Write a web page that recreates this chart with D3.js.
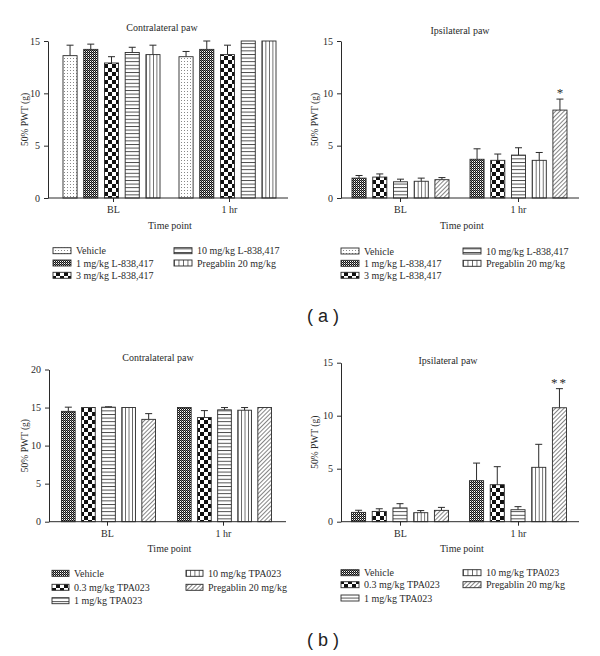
<!DOCTYPE html>
<html><head><meta charset="utf-8">
<script src="https://cdn.jsdelivr.net/npm/d3@7"></script>
<style>body{margin:0;background:#fff}svg{display:block}</style>
</head><body>
<svg id="c" width="600" height="656"></svg>
<script>
// ---------- DATA ----------
const timePoints = ["BL", "1 hr"];
const seriesA = ["Vehicle", "1 mg/kg L-838,417", "3 mg/kg L-838,417", "10 mg/kg L-838,417", "Pregablin 20 mg/kg"];
const seriesB = ["Vehicle", "0.3 mg/kg TPA023", "1 mg/kg TPA023", "10 mg/kg TPA023", "Pregablin 20 mg/kg"];

const aContraMean = [[13.6, 14.2, 12.9, 13.9, 13.7], [13.5, 14.2, 13.7, 15.0, 15.0]];
const aContraSem  = [[1.0, 0.5, 0.6, 0.5, 0.9], [0.5, 0.8, 0.9, 0, 0]];
const aIpsiMean   = [[1.9, 2.0, 1.55, 1.6, 1.75], [3.7, 3.6, 4.1, 3.6, 8.4]];
const aIpsiSem    = [[0.25, 0.3, 0.25, 0.3, 0.2], [1.0, 0.6, 0.7, 0.75, 1.05]];
const aIpsiSig    = [["", "", "", "", ""], ["", "", "", "", "*"]];

const bContraMean = [[14.5, 15.0, 15.05, 15.0, 13.45], [15.0, 13.7, 14.7, 14.65, 15.0]];
const bContraSem  = [[0.55, 0, 0.05, 0, 0.75], [0, 0.9, 0.3, 0.35, 0]];
const bIpsiMean   = [[0.88, 0.97, 1.3, 0.85, 1.07], [3.87, 3.49, 1.13, 5.13, 10.75]];
const bIpsiSem    = [[0.2, 0.25, 0.4, 0.2, 0.28], [1.66, 1.7, 0.29, 2.17, 1.8]];
const bIpsiSig    = [["", "", "", "", ""], ["", "", "", "", "**"]];

const yTicks15 = [0, 5, 10, 15];
const yTicks20 = [0, 5, 10, 15, 20];
const noSig = [["", "", "", "", ""], ["", "", "", "", ""]];

// ---------- STYLE / LAYOUT ----------
const patA = ["dots", "fine", "checker", "hlines", "vlines"];
const patB = ["fine", "checker", "hlines", "vlines", "diag"];
const INK = "#2a2a2a";
const SERIF = "'Liberation Serif', 'Times New Roman', serif";

const svg = d3.select("#c");
const defs = svg.append("defs");

// patterns
(function () {
  let p = defs.append("pattern").attr("id", "dots").attr("patternUnits", "userSpaceOnUse").attr("width", 3).attr("height", 3);
  p.append("rect").attr("width", 3).attr("height", 3).attr("fill", "#fff");
  p.append("rect").attr("x", 1).attr("y", 1).attr("width", 1).attr("height", 1).attr("fill", "#888");

  p = defs.append("pattern").attr("id", "fine").attr("patternUnits", "userSpaceOnUse").attr("width", 2).attr("height", 2);
  p.append("rect").attr("width", 2).attr("height", 2).attr("fill", "#fff");
  p.append("rect").attr("x", 0).attr("y", 0).attr("width", 1).attr("height", 1).attr("fill", "#111");
  p.append("rect").attr("x", 1).attr("y", 1).attr("width", 1).attr("height", 1).attr("fill", "#111");
  p.append("rect").attr("x", 1).attr("y", 0).attr("width", 1).attr("height", 1).attr("fill", "#777");

  p = defs.append("pattern").attr("id", "checker").attr("patternUnits", "userSpaceOnUse").attr("width", 8).attr("height", 8);
  p.append("rect").attr("width", 8).attr("height", 8).attr("fill", "#fff");
  p.append("rect").attr("x", 0).attr("y", 0).attr("width", 4).attr("height", 4).attr("fill", "#111");
  p.append("rect").attr("x", 4).attr("y", 4).attr("width", 4).attr("height", 4).attr("fill", "#111");

  p = defs.append("pattern").attr("id", "hlines").attr("patternUnits", "userSpaceOnUse").attr("width", 4).attr("height", 3.6);
  p.append("rect").attr("width", 4).attr("height", 3.6).attr("fill", "#fff");
  p.append("line").attr("x1", 0).attr("x2", 4).attr("y1", 0.5).attr("y2", 0.5).attr("stroke", "#333").attr("stroke-width", 0.9);

  p = defs.append("pattern").attr("id", "vlines").attr("patternUnits", "objectBoundingBox").attr("width", 0.25).attr("height", 1);
  p.append("rect").attr("width", 50).attr("height", 400).attr("fill", "#fff");
  p.append("line").attr("x1", 0).attr("x2", 0).attr("y1", 0).attr("y2", 400).attr("stroke", "#333").attr("stroke-width", 1.4);

  p = defs.append("pattern").attr("id", "diag").attr("patternUnits", "userSpaceOnUse").attr("width", 3).attr("height", 3)
    .attr("patternTransform", "rotate(45)");
  p.append("rect").attr("width", 3).attr("height", 3).attr("fill", "#fff");
  p.append("line").attr("x1", 0).attr("x2", 0).attr("y1", 0).attr("y2", 3).attr("stroke", "#333").attr("stroke-width", 1.2);
})();

const panels = [
  { mean: aContraMean, sem: aContraSem, sig: noSig, pats: patA, title: "Contralateral paw", yMax: 15, ticks: yTicks15,
    x0: 48, x1: 288, yT: 41, yB: 198, tk: [113, 229], shift: -1.5, innerW: 97, titleX: 162, titleY: 27, labX: 25 },
  { mean: aIpsiMean, sem: aIpsiSem, sig: aIpsiSig, pats: patB, title: "Ipsilateral paw", yMax: 15, ticks: yTicks15,
    x0: 341, x1: 579, yT: 41, yB: 198, tk: [400, 518], shift: 0.5, innerW: 97, titleX: 460, titleY: 30, labX: 315 },
  { mean: bContraMean, sem: bContraSem, sig: noSig, pats: patB, title: "Contralateral paw", yMax: 20, ticks: yTicks20,
    x0: 49, x1: 286, yT: 369.5, yB: 521.7, tk: [107, 223], shift: 1.5, innerW: 94, titleX: 158, titleY: 357, labX: 25 },
  { mean: bIpsiMean, sem: bIpsiSem, sig: bIpsiSig, pats: patB, title: "Ipsilateral paw", yMax: 15, ticks: yTicks15,
    x0: 341, x1: 579, yT: 362.7, yB: 521.7, tk: [400, 518], shift: 0, innerW: 97, titleX: 448, titleY: 360, labX: 315 }
];

panels.forEach(P => {
  const g = svg.append("g");
  const y = d3.scaleLinear().domain([0, P.yMax]).range([P.yB, P.yT]);
  const x = d3.scalePoint().domain(timePoints).range(P.tk);
  const inner = d3.scaleBand().domain(d3.range(5)).range([-P.innerW / 2, P.innerW / 2]).paddingInner(0.32);

  // bars
  timePoints.forEach((t, ti) => {
    const gx = x(t) + P.shift;
    P.mean[ti].forEach((m, si) => {
      const bx = gx + inner(si);
      const bw = inner.bandwidth();
      const s = P.sem[ti][si];
      const cx = bx + bw / 2;
      if (s > 0) {
        g.append("line").attr("x1", cx).attr("x2", cx).attr("y1", y(m)).attr("y2", y(m + s))
          .attr("stroke", INK).attr("stroke-width", 1);
        g.append("line").attr("x1", cx - 3.5).attr("x2", cx + 3.5).attr("y1", y(m + s)).attr("y2", y(m + s))
          .attr("stroke", INK).attr("stroke-width", 1);
      }
      g.append("rect").attr("x", bx).attr("y", y(m)).attr("width", bw).attr("height", y(0) - y(m))
        .attr("fill", `url(#${P.pats[si]})`).attr("stroke", INK).attr("stroke-width", 0.9);
      const sg = P.sig[ti][si];
      if (sg) {
        g.append("text").attr("x", cx).attr("y", y(m + s) - 2).attr("text-anchor", "middle")
          .attr("font-family", SERIF).attr("font-size", 13).attr("fill", INK)
          .attr("letter-spacing", sg.length > 1 ? 2 : 0).text(sg);
      }
    });
  });

  // y axis
  const ya = g.append("g").attr("transform", `translate(${P.x0},0)`)
    .call(d3.axisLeft(y).tickValues(P.ticks).tickSize(4).tickSizeOuter(0).tickPadding(4));
  ya.selectAll("path,line").attr("stroke", INK);
  ya.selectAll("text").attr("font-family", SERIF).attr("font-size", 10).attr("fill", INK);

  // x axis
  const xa = g.append("g").attr("transform", `translate(0,${P.yB})`)
    .call(d3.axisBottom(x).tickSize(4).tickPadding(4));
  xa.select(".domain").remove();
  xa.selectAll("line").attr("stroke", INK);
  xa.selectAll("text").attr("font-family", SERIF).attr("font-size", 10).attr("fill", INK);
  g.append("line").attr("x1", P.x0).attr("x2", P.x1).attr("y1", P.yB).attr("y2", P.yB).attr("stroke", INK);

  // titles
  g.append("text").attr("x", P.titleX).attr("y", P.titleY + 3.5).attr("text-anchor", "middle")
    .attr("font-family", SERIF).attr("font-size", 10).attr("fill", INK).text(P.title);
  g.append("text").attr("transform", `translate(${P.labX},${(P.yT + P.yB) / 2}) rotate(-90)`)
    .attr("text-anchor", "middle").attr("dy", "0.35em")
    .attr("font-family", SERIF).attr("font-size", 9.5).attr("fill", INK).text("50% PWT (g)");
  g.append("text").attr("x", (P.x0 + P.x1) / 2 + 2).attr("y", P.yB + 30.5).attr("text-anchor", "middle")
    .attr("font-family", SERIF).attr("font-size", 10).attr("fill", INK).text("Time point");
});

// legends
const legends = [
  { names: seriesA, pats: patA, c1: 53, c2: 174, rows: [250.7, 263, 275.3], sw: 18 },
  { names: seriesA, pats: patA, c1: 341, c2: 463, rows: [251, 263.3, 275.3], sw: 18 },
  { names: seriesB, pats: patB, c1: 52, c2: 186, rows: [573.3, 587.3, 600.7], sw: 17 },
  { names: seriesB, pats: patB, c1: 341, c2: 463, rows: [572.7, 584.7, 598], sw: 18 }
];
legends.forEach(L => {
  L.names.forEach((n, i) => {
    const col = i < 3 ? L.c1 : L.c2;
    const ry = L.rows[i < 3 ? i : i - 3];
    svg.append("rect").attr("x", col).attr("y", ry - 3).attr("width", L.sw).attr("height", 6)
      .attr("fill", `url(#${L.pats[i]})`).attr("stroke", INK).attr("stroke-width", 0.9);
    svg.append("text").attr("x", col + L.sw + 5).attr("y", ry + 3.5)
      .attr("font-family", SERIF).attr("font-size", 10).attr("fill", INK).text(n);
  });
});

// panel labels
[["( a )", 316], ["( b )", 640]].forEach(([t, yy]) => {
  svg.append("text").attr("x", 323).attr("y", yy + 6).attr("text-anchor", "middle")
    .attr("font-family", "'Liberation Sans', Arial, sans-serif").attr("font-size", 18).attr("fill", "#222").text(t);
});
</script>
</body></html>
